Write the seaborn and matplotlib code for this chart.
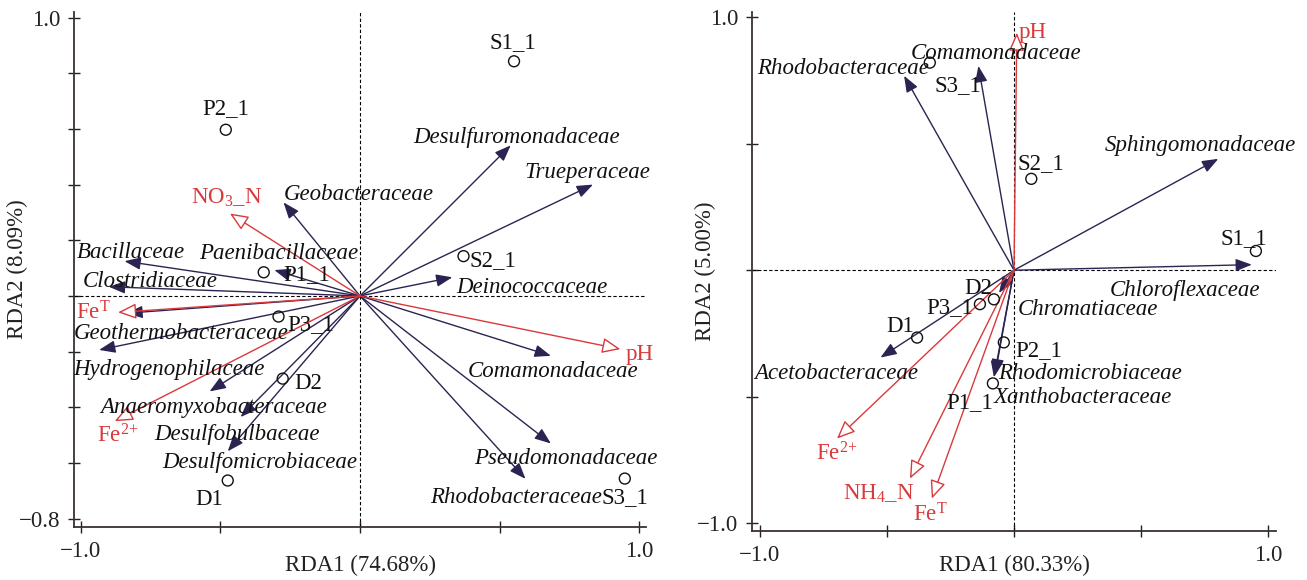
import matplotlib
matplotlib.use("Agg")
import matplotlib.pyplot as plt
import seaborn as sns
import pandas as pd

# ---------------- data: left panel ----------------
left_species = ["Desulfuromonadaceae", "Trueperaceae", "Geobacteraceae", "Bacillaceae",
                "Paenibacillaceae", "Clostridiaceae", "Deinococcaceae", "Geothermobacteraceae",
                "Hydrogenophilaceae", "Anaeromyxobacteraceae", "Desulfobulbaceae",
                "Desulfomicrobiaceae", "Comamonadaceae", "Pseudomonadaceae", "Rhodobacteraceae"]
left_species_x = [0.540, 0.835, -0.274, -0.844, -0.307, -0.900, 0.331, -0.837,
                  -0.935, -0.539, -0.428, -0.474, 0.684, 0.684, 0.593]
left_species_y = [0.541, 0.400, 0.336, 0.125, 0.093, 0.033, 0.067, -0.062,
                  -0.194, -0.343, -0.435, -0.558, -0.215, -0.530, -0.657]
left_env = ["pH", "NO$_3$_N", "Fe$^{\\mathrm{T}}$", "Fe$^{2\\text{+}}$"]
left_env_x = [0.933, -0.466, -0.867, -0.879]
left_env_y = [-0.191, 0.296, -0.059, -0.450]
left_sites = ["S1_1", "P2_1", "P1_1", "S2_1", "P3_1", "D2", "D1", "S3_1"]
left_sites_x = [0.552, -0.481, -0.345, 0.371, -0.292, -0.277, -0.474, 0.949]
left_sites_y = [0.843, 0.597, 0.085, 0.143, -0.074, -0.297, -0.663, -0.656]
left_xlabel = "RDA1 (74.68%)"
left_ylabel = "RDA2 (8.09%)"

# ---------------- data: right panel ----------------
right_species = ["Rhodobacteraceae", "Comamonadaceae", "Sphingomonadaceae", "Chloroflexaceae",
                 "Chromatiaceae", "Acetobacteraceae", "Rhodomicrobiaceae", "Xanthobacteraceae"]
right_species_x = [-0.432, -0.140, 0.803, 0.935, -0.059, -0.525, -0.079, -0.075]
right_species_y = [0.768, 0.807, 0.440, 0.022, -0.090, -0.345, -0.423, -0.415]
right_env = ["pH", "Fe$^{2\\text{+}}$", "NH$_4$_N", "Fe$^{\\mathrm{T}}$"]
right_env_x = [0.011, -0.696, -0.409, -0.323]
right_env_y = [0.938, -0.665, -0.823, -0.902]
right_sites = ["S1_1", "S2_1", "S3_1", "D2", "P3_1", "D1", "P2_1", "P1_1"]
right_sites_x = [0.951, 0.068, -0.331, -0.079, -0.134, -0.381, -0.040, -0.083]
right_sites_y = [0.076, 0.361, 0.820, -0.115, -0.134, -0.266, -0.285, -0.447]
right_xlabel = "RDA1 (80.33%)"
right_ylabel = "RDA2 (5.00%)"

# ---------------- layout: label offsets (pixels, right / down) ----------------
left_species_off = {"Desulfuromonadaceae": (6, -8), "Trueperaceae": (-6, -12),
                    "Geobacteraceae": (75, -8), "Bacillaceae": (6, -9),
                    "Paenibacillaceae": (4, -17), "Clostridiaceae": (41, -5),
                    "Deinococcaceae": (80, 10), "Geothermobacteraceae": (55, 20),
                    "Hydrogenophilaceae": (70, 20), "Anaeromyxobacteraceae": (4, 16),
                    "Desulfobulbaceae": (-4, 17), "Desulfomicrobiaceae": (32, 11),
                    "Comamonadaceae": (2, 16), "Pseudomonadaceae": (15, 15),
                    "Rhodobacteraceae": (-9, 19)}
left_env_off = [(19, 5), (-3, -16), (-25, 1), (3, 15)]
left_sites_off = {"S1_1": (-1, -19), "P2_1": (0, -21), "P1_1": (43, 2), "S2_1": (29, 4),
                  "P3_1": (32, 8), "D2": (26, 5), "D1": (-19, 19), "S3_1": (0, 19)}
right_species_off = {"Rhodobacteraceae": (-61, -7), "Comamonadaceae": (18, -12),
                     "Sphingomonadaceae": (-18, -13), "Chloroflexaceae": (-67, 26),
                     "Chromatiaceae": (89, 16), "Acetobacteraceae": (-44, 16),
                     "Rhodomicrobiaceae": (96, -4), "Xanthobacteraceae": (88, 22)}
right_env_off = [(16, 0), (0, 15), (-31, 15), (-2, 16)]
right_sites_off = {"S1_1": (-12, -12), "S2_1": (10, -15), "S3_1": (28, 23), "D2": (-16, -11),
                   "P3_1": (-30, 3), "D1": (-17, -11), "P2_1": (35, 8), "P1_1": (-23, 19)}

DARK = "#2b2452"
RED = "#d9393b"
FS = 16.5

sns.set_theme(style="ticks")
plt.rcParams["font.family"] = ["Liberation Serif", "DejaVu Serif"]
plt.rcParams["mathtext.fontset"] = "custom"
plt.rcParams["mathtext.rm"] = "Liberation Serif"
plt.rcParams["mathtext.it"] = "Liberation Serif:italic"
plt.rcParams["axes.unicode_minus"] = True

fig = plt.figure(figsize=(13.07, 5.80), dpi=100)
W, H = 1307, 580


def make_axes(px0, px1, py0, py1):
    return fig.add_axes([px0 / W, 1 - py1 / H, (px1 - px0) / W, (py1 - py0) / H])


def draw_panel(ax, sp, spx, spy, sp_off, env, ex, ey, env_off, sites, sx, sy, s_off,
               xlim, ylim, yticks, ylabels, xlabel, ylabel, xlab_y, ylab_x):
    ax.set_xlim(*xlim)
    ax.set_ylim(*ylim)
    ax.axhline(0, color="black", lw=0.8, ls=(0, (3, 2)), zorder=1)
    ax.axvline(0, color="black", lw=0.8, ls=(0, (3, 2)), zorder=1)
    # species arrows
    for n, x, y in zip(sp, spx, spy):
        ax.annotate("", xy=(x, y), xytext=(0, 0),
                    arrowprops=dict(arrowstyle="-|>,head_length=0.7,head_width=0.27",
                                    color=DARK, lw=1.0, mutation_scale=14,
                                    shrinkA=0, shrinkB=0), zorder=3)
        dx, dy = sp_off[n]
        ax.annotate(n, xy=(x, y), xytext=(dx, -dy), textcoords="offset pixels",
                    ha="center", va="center", fontsize=FS, style="italic", color="#111111",
                    zorder=5)
    # environmental arrows
    for n, x, y, (dx, dy) in zip(env, ex, ey, env_off):
        ax.annotate("", xy=(x, y), xytext=(0, 0),
                    arrowprops=dict(arrowstyle="-|>,head_length=0.8,head_width=0.34",
                                    ec=RED, fc="white", lw=1.0, mutation_scale=14,
                                    shrinkA=0, shrinkB=0), zorder=4)
        ax.annotate(n, xy=(x, y), xytext=(dx, -dy), textcoords="offset pixels",
                    ha="center", va="center", fontsize=FS, color=RED, zorder=5)
    # sites
    df = pd.DataFrame({"x": sx, "y": sy, "site": sites})
    sns.scatterplot(data=df, x="x", y="y", ax=ax, marker="o", s=62,
                    facecolor="none", edgecolor="#111111", linewidth=1.0, zorder=6)
    for n, x, y in zip(sites, sx, sy):
        dx, dy = s_off[n]
        ax.annotate(n, xy=(x, y), xytext=(dx, -dy), textcoords="offset pixels",
                    ha="center", va="center", fontsize=FS, color="#111111", zorder=5)
    # axes styling
    sns.despine(ax=ax)
    for s in ("left", "bottom"):
        ax.spines[s].set_color("#3a3232")
        ax.spines[s].set_linewidth(1.3)
    ax.set_xticks([-1.0, -0.5, 0.0, 0.5, 1.0])
    ax.set_xticklabels(["\u22121.0", "", "", "", "1.0"])
    ax.set_yticks(yticks)
    ax.set_yticklabels(ylabels)
    ax.tick_params(axis="both", direction="inout", length=8, width=1.0,
                   labelsize=FS, colors="#222222", pad=6)
    ax.set_xlabel(xlabel, fontsize=FS, color="#222222")
    ax.set_ylabel(ylabel, fontsize=FS, color="#222222")
    ax.xaxis.set_label_coords(0.5, xlab_y)
    ax.xaxis.label.set_verticalalignment("center")
    ax.yaxis.set_label_coords(ylab_x, 0.5)
    ax.yaxis.label.set_verticalalignment("center")


axL = make_axes(74, 646, 12, 527)
draw_panel(axL, left_species, left_species_x, left_species_y, left_species_off,
           left_env, left_env_x, left_env_y, left_env_off,
           left_sites, left_sites_x, left_sites_y, left_sites_off,
           xlim=(-1.025, 1.025), ylim=(-0.83, 1.02),
           yticks=[1.0, 0.8, 0.6, 0.4, 0.2, 0.0, -0.2, -0.4, -0.6, -0.8],
           ylabels=["1.0", "", "", "", "", "", "", "", "", "\u22120.8"],
           xlabel=left_xlabel, ylabel=left_ylabel, xlab_y=-0.074, ylab_x=-0.098)

axR = make_axes(752, 1276, 12, 531)
draw_panel(axR, right_species, right_species_x, right_species_y, right_species_off,
           right_env, right_env_x, right_env_y, right_env_off,
           right_sites, right_sites_x, right_sites_y, right_sites_off,
           xlim=(-1.03, 1.03), ylim=(-1.03, 1.02),
           yticks=[1.0, 0.5, 0.0, -0.5, -1.0],
           ylabels=["1.0", "", "", "", "\u22121.0"],
           xlabel=right_xlabel, ylabel=right_ylabel, xlab_y=-0.0655, ylab_x=-0.088)

fig.savefig("out.png", dpi=100, facecolor="white")
